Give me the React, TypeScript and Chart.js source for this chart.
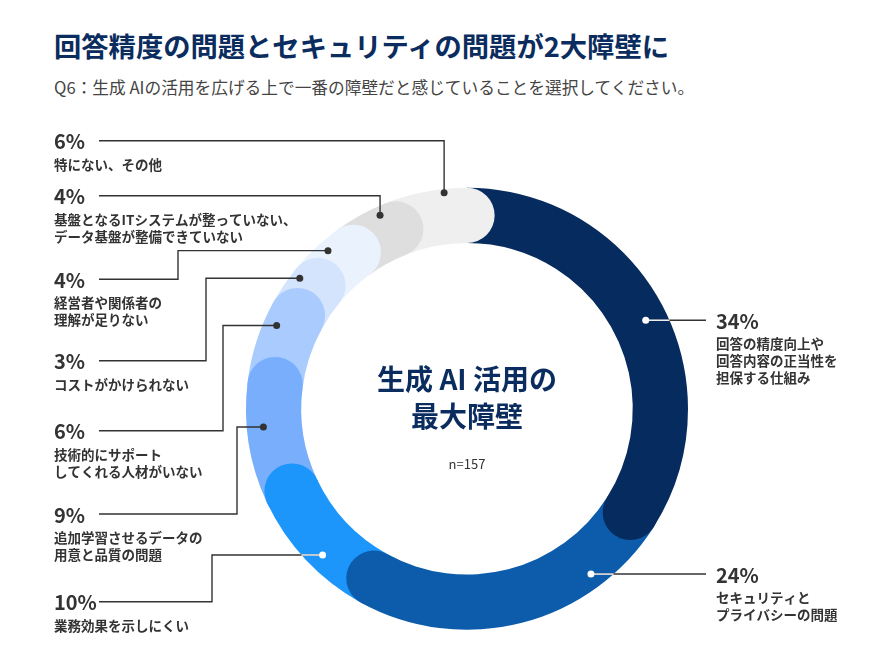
import React, { useEffect, useRef } from "react";
import { Chart, registerables } from "chart.js";

Chart.register(...registerables);

// ---- data ----
const categories: string[][] = [
  ["回答の精度向上や", "回答内容の正当性を", "担保する仕組み"],
  ["セキュリティと", "プライバシーの問題"],
  ["業務効果を示しにくい"],
  ["追加学習させるデータの", "用意と品質の問題"],
  ["技術的にサポート", "してくれる人材がいない"],
  ["コストがかけられない"],
  ["経営者や関係者の", "理解が足りない"],
  ["基盤となるITシステムが整っていない、", "データ基盤が整備できていない"],
  ["特にない、その他"],
];
const values: number[] = [34, 24, 10, 9, 6, 3, 4, 4, 6];
const sampleSize = 157;

const TITLE = "回答精度の問題とセキュリティの問題が2大障壁に";
const SUBTITLE = "Q6：生成 AIの活用を広げる上で一番の障壁だと感じていることを選択してください。";
const CENTER_LINES = ["生成 AI 活用の", "最大障壁"];

// ---- style / layout ----
const colors = ["#062b5e", "#0c5cab", "#1d96fc", "#78aefc", "#a9cbfd", "#d5e4fd", "#eaf2fe", "#dedede", "#efefef"];
const lightMarker = [true, true, true, false, false, false, false, false, false];
const anchorAlong = [0.52, 0.24, 0.44, 0.62, 0.76, 0.85, 0.63, 0.82, 0.72];
const anchorRadial = [0.61, 0.74, 0.72, 0.7, 0.76, 0.84, 0.81, 0.84, 0.93];
const labelSide = ["right", "right", "left", "left", "left", "left", "left", "left", "left"];
const labelY: (number | null)[] = [null, null, 601.7, 514, 430.7, 360.7, 279.3, 195.7, 140.7];
const elbowX: (number | null)[] = [null, null, 212, 237, 223, 206, 178, null, null];

const NAVY = "#0b2c5e";
const TEXT = "#333333";
const FONT = '"Noto Sans CJK JP", "Noto Sans", sans-serif';

const ringPlugin = {
  id: "roundRing",
  beforeDatasetDraw() {
    return false;
  },
  afterDatasetsDraw(chart: any) {
    const ctx: CanvasRenderingContext2D = chart.ctx;
    const meta = chart.getDatasetMeta(0);
    const arcs = meta.data.map((el: any) =>
      el.getProps(["x", "y", "startAngle", "endAngle", "innerRadius", "outerRadius"], true)
    );
    const n = arcs.length;
    const drawBody = (i: number) => {
      const a = arcs[i];
      ctx.beginPath();
      ctx.arc(a.x, a.y, a.outerRadius, a.startAngle, a.endAngle);
      ctx.arc(a.x, a.y, a.innerRadius, a.endAngle, a.startAngle, true);
      ctx.closePath();
      ctx.fillStyle = colors[i];
      ctx.fill();
    };
    const drawCap = (i: number) => {
      const a = arcs[i];
      const mid = (a.innerRadius + a.outerRadius) / 2;
      const th = a.outerRadius - a.innerRadius;
      ctx.beginPath();
      ctx.arc(a.x + mid * Math.cos(a.endAngle), a.y + mid * Math.sin(a.endAngle), th / 2, 0, Math.PI * 2);
      ctx.fillStyle = colors[i];
      ctx.fill();
    };
    ctx.save();
    for (let i = n - 1; i >= 0; i--) {
      drawBody(i);
      drawCap(i);
    }
    drawCap(n - 1);
    ctx.restore();

    // callouts
    ctx.save();
    for (let i = 0; i < n; i++) {
      const a = arcs[i];
      const ang = a.startAngle + (a.endAngle - a.startAngle) * anchorAlong[i];
      const r = a.innerRadius + (a.outerRadius - a.innerRadius) * anchorRadial[i];
      const dx = a.x + r * Math.cos(ang);
      const dy = a.y + r * Math.sin(ang);
      const right = labelSide[i] === "right";
      const textX = right ? 716 : 54;
      const lineEndX = right ? 706 : 99;
      const py = labelY[i] ?? dy;

      ctx.strokeStyle = TEXT;
      ctx.lineWidth = 1.4;
      ctx.beginPath();
      if (right) {
        ctx.moveTo(dx, dy);
        ctx.lineTo(lineEndX, dy);
      } else {
        const ex = elbowX[i] ?? dx;
        ctx.moveTo(lineEndX, py);
        ctx.lineTo(ex, py);
        ctx.lineTo(ex, dy);
        ctx.lineTo(dx, dy);
      }
      ctx.stroke();

      if (lightMarker[i]) {
        const h = Math.sqrt(Math.max(0, a.outerRadius * a.outerRadius - (dy - a.y) * (dy - a.y)));
        const edgeX = dx > a.x ? a.x + h : a.x - h;
        ctx.strokeStyle = "#ffffff";
        ctx.beginPath();
        ctx.moveTo(dx, dy);
        ctx.lineTo(edgeX, dy);
        ctx.stroke();
      }
      ctx.beginPath();
      ctx.arc(dx, dy, 3.5, 0, Math.PI * 2);
      ctx.fillStyle = lightMarker[i] ? "#ffffff" : TEXT;
      ctx.fill();

      ctx.fillStyle = TEXT;
      ctx.textAlign = "left";
      ctx.textBaseline = "middle";
      ctx.font = `bold 20px ${FONT}`;
      ctx.fillText(`${values[i]}%`, textX, py + 1);
      ctx.font = `bold 13.5px ${FONT}`;
      categories[i].forEach((line, k) => {
        ctx.fillText(line, textX, py + 24 + k * 17);
      });
    }
    ctx.restore();
  },
};

export default function App() {
  const ref = useRef<HTMLCanvasElement | null>(null);
  useEffect(() => {
    if (!ref.current) return;
    const chart = new Chart(ref.current, {
      type: "doughnut",
      data: {
        labels: categories.map((c) => c.join("")),
        datasets: [{ data: values, backgroundColor: colors, borderWidth: 0 }],
      },
      options: {
        animation: false,
        responsive: true,
        maintainAspectRatio: false,
        cutout: "75%",
        layout: { padding: { left: 246, right: 203, top: 187.75, bottom: 21.25 } },
        plugins: { legend: { display: false }, tooltip: { enabled: false } },
        events: [],
      },
      plugins: [ringPlugin],
    } as any);
    return () => chart.destroy();
  }, []);

  return (
    <div style={{ position: "fixed", left: 0, top: 0, width: 891, height: 651, background: "#fff", fontFamily: FONT }}>
      <div
        style={{
          position: "absolute",
          left: 54,
          top: 28,
          fontSize: 27.3,
          lineHeight: "34px",
          fontWeight: 700,
          color: NAVY,
          whiteSpace: "nowrap",
        }}
      >
        {TITLE}
      </div>
      <div
        style={{
          position: "absolute",
          left: 54,
          top: 76,
          fontSize: 16.7,
          lineHeight: "23px",
          color: "#444",
          whiteSpace: "nowrap",
        }}
      >
        {SUBTITLE}
      </div>
      <canvas ref={ref} width={891} height={651} style={{ position: "absolute", left: 0, top: 0 }} />
      <div
        style={{
          position: "absolute",
          left: 317,
          width: 300,
          top: 360,
          textAlign: "center",
          fontSize: 28,
          lineHeight: "37px",
          fontWeight: 700,
          color: NAVY,
          pointerEvents: "none",
        }}
      >
        {CENTER_LINES.map((l) => (
          <div key={l}>{l}</div>
        ))}
      </div>
      <div
        style={{
          position: "absolute",
          left: 367,
          width: 200,
          top: 455,
          textAlign: "center",
          fontSize: 13,
          lineHeight: "18px",
          color: TEXT,
        }}
      >
        {`n=${sampleSize}`}
      </div>
    </div>
  );
}
